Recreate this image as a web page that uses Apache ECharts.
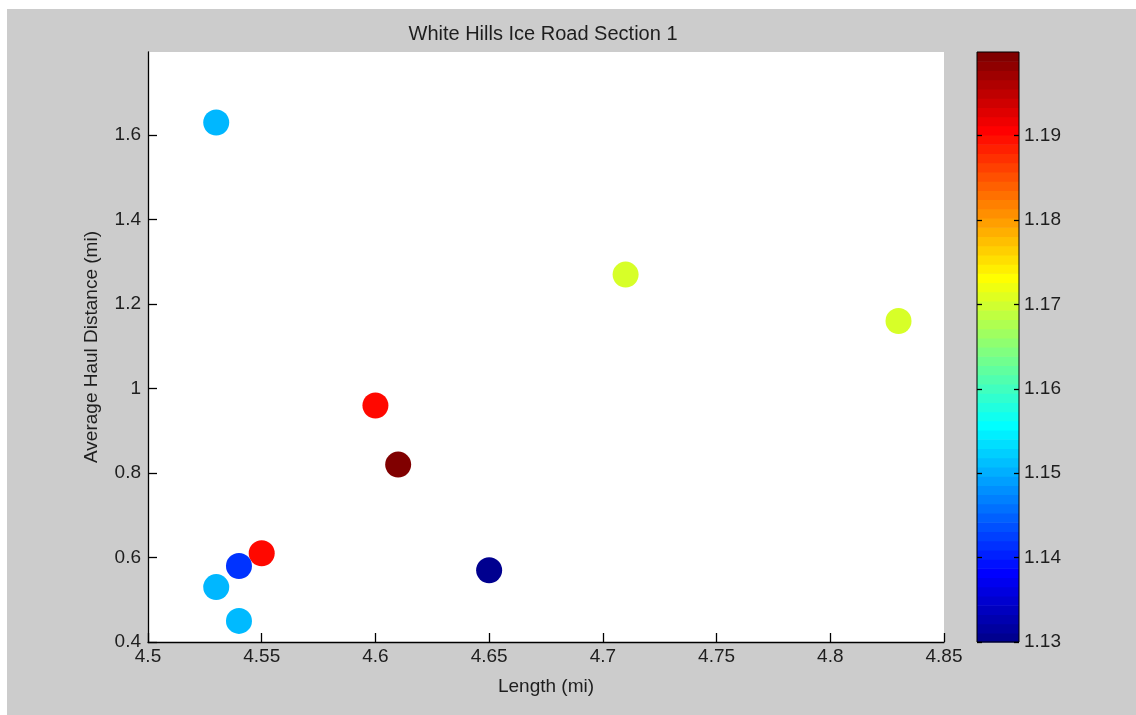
<!DOCTYPE html>
<html>
<head>
<meta charset="utf-8">
<title>White Hills Ice Road Section 1</title>
<script src="https://cdn.jsdelivr.net/npm/echarts@6/dist/echarts.min.js"></script>
<style>
  html, body { margin: 0; padding: 0; background: #ffffff; }
  #chart { position: absolute; left: 7px; top: 9px; width: 1129px; height: 706px; }
</style>
</head>
<body>
<div id="chart"></div>
<script>
// Road segments: length, average haul distance and the colour-coded ratio
const lengthMi = [4.53, 4.53, 4.54, 4.55, 4.54, 4.60, 4.61, 4.65, 4.71, 4.83];
const haulMi   = [1.63, 0.53, 0.45, 0.61, 0.58, 0.96, 0.82, 0.57, 1.27, 1.16];
const ratio    = [1.1505, 1.1505, 1.1507, 1.1905, 1.1413, 1.1905, 1.1999, 1.13, 1.1705, 1.1705];

// Axis ranges and tick values
const xMin = 4.5, xMax = 4.85, xStep = 0.05;
const yTicks = [0.4, 0.6, 0.8, 1.0, 1.2, 1.4, 1.6];
const yMin = 0.4, yMax = 1.797;
const cTicks = [1.13, 1.14, 1.15, 1.16, 1.17, 1.18, 1.19];
const cMin = 1.13, cMax = 1.1999;

// MATLAB-style jet colormap with 64 entries
function jet(m) {
  const n = Math.ceil(m / 4);
  const u = [];
  for (let i = 1; i <= n; i++) u.push(i / n);
  for (let i = 1; i < n; i++) u.push(1);
  for (let i = n; i >= 1; i--) u.push(i / n);
  const off = Math.ceil(n / 2) - (m % 4 === 1 ? 1 : 0);
  const cols = [];
  for (let k = 1; k <= m; k++) {
    const gi = k - off, ri = gi - n, bi = gi + n;
    const pick = j => (j >= 1 && j <= u.length) ? u[j - 1] : 0;
    const r = Math.round(pick(ri) * 255), g = Math.round(pick(gi) * 255), b = Math.round(pick(bi) * 255);
    cols.push('rgb(' + r + ',' + g + ',' + b + ')');
  }
  return cols;
}
const jetColors = jet(64);

// Colour bar bands
const bands = jetColors.map((c, i) => [
  cMin + (cMax - cMin) * i / jetColors.length,
  cMin + (cMax - cMin) * (i + 1) / jetColors.length,
  i
]);

const points = lengthMi.map((x, i) => [x, haulMi[i], ratio[i]]);

const FONT = '"Liberation Sans", Arial, sans-serif';
const TXT = '#1e1e1e';
const FS = 19;

const chart = echarts.init(document.getElementById('chart'), null, { renderer: 'canvas' });

chart.setOption({
  backgroundColor: '#cccccc',
  animation: false,
  textStyle: { fontFamily: FONT, color: TXT },
  title: {
    text: 'White Hills Ice Road Section 1',
    left: 531,
    textAlign: 'center',
    top: 10,
    textStyle: { fontFamily: FONT, fontSize: 20, fontWeight: 'normal', color: TXT }
  },
  grid: [
    { left: 141, top: 43, width: 796, height: 590, show: true, backgroundColor: '#ffffff', borderWidth: 0 },
    { left: 970, top: 43, width: 42, height: 590, show: true, backgroundColor: 'transparent',
      borderColor: '#000000', borderWidth: 1, z: 10 }
  ],
  visualMap: {
    type: 'continuous',
    show: false,
    seriesIndex: 0,
    dimension: 2,
    min: cMin,
    max: cMax,
    inRange: { color: jetColors }
  },
  xAxis: [
    {
      gridIndex: 0, type: 'value', min: xMin, max: xMax, interval: xStep,
      name: 'Length (mi)', nameLocation: 'middle', nameGap: 35,
      nameTextStyle: { fontFamily: FONT, fontSize: FS, color: TXT },
      axisLine: { show: true, onZero: false, lineStyle: { color: '#000', width: 1.3 } },
      axisTick: { show: true, inside: true, length: 9, lineStyle: { color: '#000', width: 1.3 } },
      axisLabel: { fontFamily: FONT, fontSize: FS, color: TXT, margin: 5 },
      splitLine: { show: false }
    },
    {
      gridIndex: 1, type: 'value', min: 0, max: 1, show: false
    }
  ],
  yAxis: [
    {
      gridIndex: 0, type: 'value', min: yMin, max: yMax,
      name: 'Average Haul Distance (mi)', nameLocation: 'middle', nameGap: 47,
      nameTextStyle: { fontFamily: FONT, fontSize: FS, color: TXT },
      axisLine: { show: true, onZero: false, lineStyle: { color: '#000', width: 1.3 } },
      axisTick: { show: true, inside: true, length: 9, customValues: yTicks, lineStyle: { color: '#000', width: 1.3 } },
      axisLabel: { fontFamily: FONT, fontSize: FS, color: TXT, margin: 7, customValues: yTicks },
      splitLine: { show: false }
    },
    {
      gridIndex: 1, type: 'value', min: cMin, max: cMax, position: 'left', z: 10,
      axisLine: { show: false },
      axisTick: { show: true, inside: true, length: 5, customValues: cTicks, lineStyle: { color: '#000', width: 1.3 } },
      axisLabel: { show: false },
      splitLine: { show: false }
    },
    {
      gridIndex: 1, type: 'value', min: cMin, max: cMax, position: 'right', z: 10,
      axisLine: { show: false },
      axisTick: { show: true, inside: true, length: 5, customValues: cTicks, lineStyle: { color: '#000', width: 1.3 } },
      axisLabel: { fontFamily: FONT, fontSize: FS, color: TXT, margin: 5, customValues: cTicks,
        formatter: v => v.toFixed(2) },
      splitLine: { show: false }
    }
  ],
  series: [
    {
      type: 'scatter',
      xAxisIndex: 0, yAxisIndex: 0,
      symbol: 'circle',
      symbolSize: 26,
      data: points,
      itemStyle: { opacity: 1 },
      emphasis: { disabled: true }
    },
    {
      type: 'custom',
      xAxisIndex: 1, yAxisIndex: 1,
      data: bands,
      renderItem: function (params, api) {
        const lo = api.value(0), hi = api.value(1);
        const p1 = api.coord([0, hi]);
        const p2 = api.coord([1, lo]);
        return {
          type: 'rect',
          shape: { x: p1[0], y: p1[1], width: p2[0] - p1[0], height: p2[1] - p1[1] + 0.6 },
          style: { fill: jetColors[params.dataIndex] }
        };
      },
      silent: true
    }
  ]
});
</script>
</body>
</html>
